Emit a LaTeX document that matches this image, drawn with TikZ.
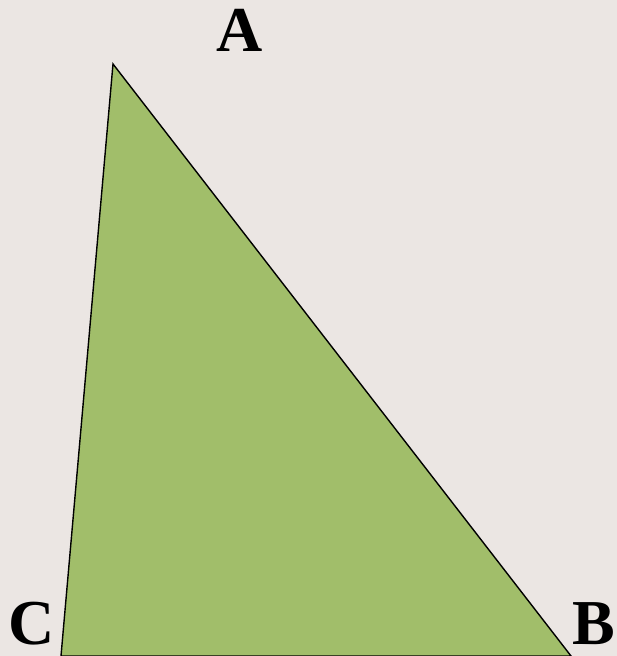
\documentclass[tikz,border=0pt]{standalone}
\usepackage{fontspec}
\setmainfont{Liberation Serif}
\definecolor{bgc}{HTML}{EBE6E3}
\definecolor{tri}{HTML}{A1BE6A}
\tikzset{lbl/.style={anchor=base,font=\fontsize{64}{64}\selectfont\bfseries,inner sep=0pt}}
\begin{document}
\begin{tikzpicture}[x=1pt,y=1pt]
\fill[bgc] (0,0) rectangle (617,656);
\useasboundingbox (0,0) rectangle (617,656);
\coordinate (A) at (113,592);
\coordinate (B) at (571,0);
\coordinate (C) at (61,0);
\filldraw[fill=tri,draw=black,line width=1.4pt,line join=miter] (A) -- (B) -- (C) -- cycle;
\node[lbl] (la) at (240,604) {A};
\node[lbl] (lc) at (32,11) {C};
\node[lbl] (lb) at (594,11) {B};
\end{tikzpicture}
\end{document}
